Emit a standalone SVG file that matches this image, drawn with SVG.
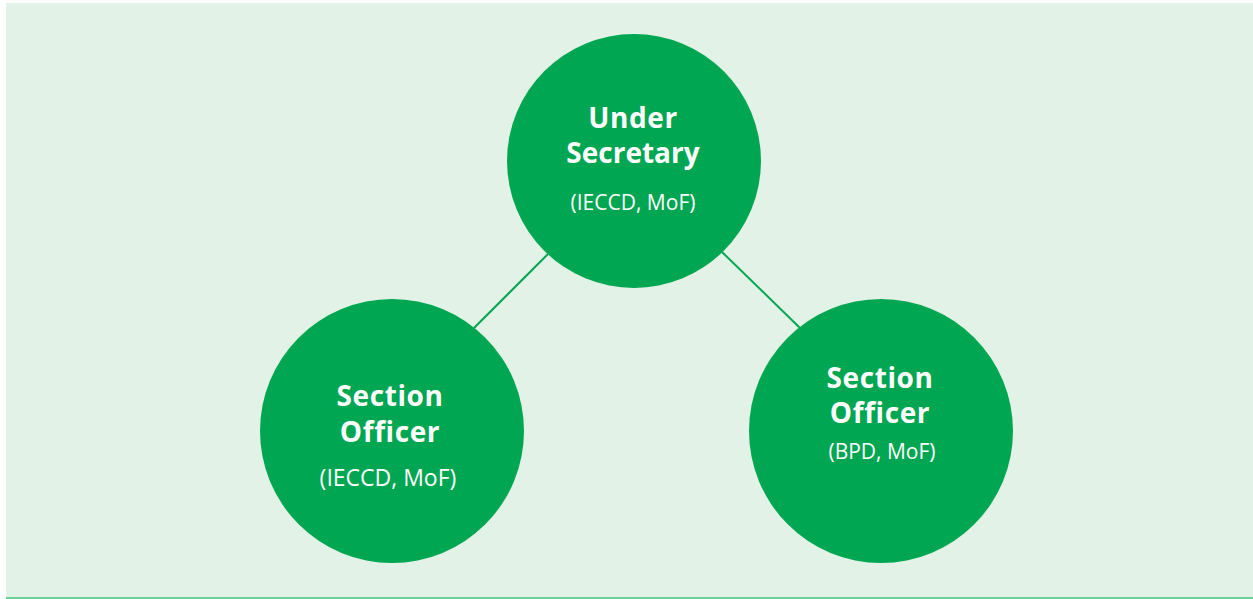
<svg xmlns="http://www.w3.org/2000/svg" width="1253" height="599" viewBox="0 0 1253 599">
<style>
.node{fill:#00A651}
.t{font-family:"Open Sans","Liberation Sans",sans-serif;font-weight:700;font-size:28px;fill:#fff;text-anchor:middle;letter-spacing:0.6px}
.s{font-family:"Open Sans","Liberation Sans",sans-serif;font-weight:400;font-size:21px;fill:#fff;text-anchor:middle}
.c{stroke:#00A651;stroke-width:2;fill:none}
</style>
<rect x="6" y="3" width="1247" height="594" fill="#E2F2E6"/>
<line x1="6" y1="598" x2="1253" y2="598" stroke="#6CD195" stroke-width="2"/>
<g id="connectors">
<line class="c" x1="548" y1="254" x2="474" y2="328"/>
<line class="c" x1="722" y1="252" x2="800" y2="328"/>
</g>
<g id="under-secretary">
<circle class="node" cx="634" cy="161" r="127"/>
<text class="t" x="633" y="128">Under</text>
<text class="t" x="633" y="163" style="letter-spacing:0px">Secretary</text>
<text class="s" x="633" y="210">(IECCD, MoF)</text>
</g>
<g id="section-officer-ieccd">
<circle class="node" cx="392" cy="431" r="132"/>
<text class="t" x="390" y="406">Section</text>
<text class="t" x="390" y="442">Officer</text>
<text class="s" x="388" y="486" style="font-size:23px">(IECCD, MoF)</text>
</g>
<g id="section-officer-bpd">
<circle class="node" cx="881" cy="431" r="132"/>
<text class="t" x="880" y="388">Section</text>
<text class="t" x="880" y="423">Officer</text>
<text class="s" x="882" y="459">(BPD, MoF)</text>
</g>
</svg>
